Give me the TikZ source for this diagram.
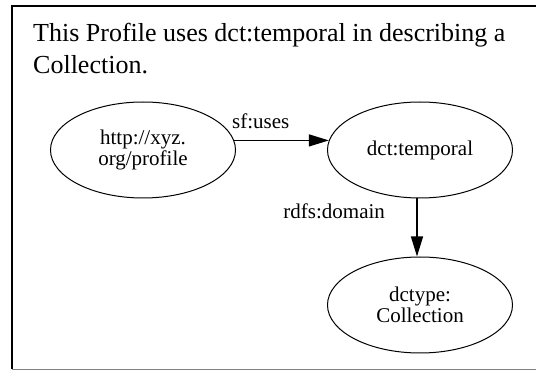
\documentclass[tikz,border=0pt]{standalone}
\usepackage{fontspec}
\setmainfont{Liberation Serif}
\usetikzlibrary{shapes.geometric,arrows.meta}
\tikzset{
  term/.style={ellipse, draw, line width=1pt, minimum width=185pt, minimum height=96pt,
    inner sep=0pt, align=center, font=\fontsize{21}{21}\selectfont},
  rel/.style={line width=1.4pt, -{Triangle[length=20pt,width=12pt]}},
  rellabel/.style={font=\fontsize{21}{21}\selectfont}
}
\begin{document}
\begin{tikzpicture}[x=1pt,y=-1pt]
\useasboundingbox (0,0) rectangle (536,371);
%\draw[red] (0,0) rectangle (536,371);
\draw[line width=2pt] (536,6)--(12,6)--(12,369);
\draw[line width=1.5pt, gray] (12,369.5)--(536,369.5);
\node[anchor=base west, align=left, inner sep=0pt, font=\fontsize{26}{32}\selectfont]
  (title) at (33,74) {This Profile uses dct:temporal in describing a\\Collection.};
\node[term] (profile) at (143,150) {http://xyz.\\ org/profile};
\node[term] (temporal) at (420,150) {dct:temporal};
\node[term] (collection) at (420,305) {dctype:\\Collection};
\draw[rel] (profile.6) -- (temporal.174) node[rellabel, pos=.28, above=8pt]{sf:uses};
\draw[rel] ([xshift=-3pt]temporal.south) -- ([xshift=-3pt]collection.north)
  node[rellabel, pos=.22, left=28pt]{rdfs:domain};
\end{tikzpicture}
\end{document}
